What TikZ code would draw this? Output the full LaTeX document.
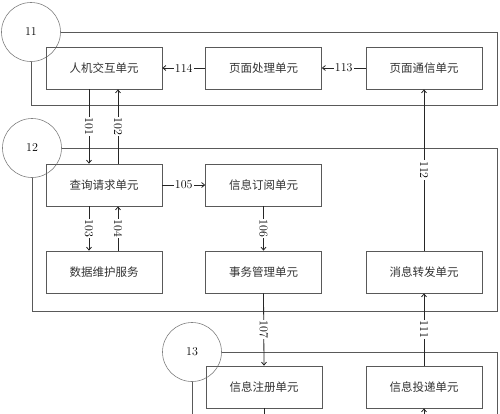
\documentclass[tikz,border=0pt]{standalone}
\usepackage{fontspec}
\newfontfamily\cjk{Noto Sans CJK SC}
\usetikzlibrary{arrows.meta}
\begin{document}
\begin{tikzpicture}[x=1pt,y=-1pt,
 box/.style={draw=black!65, line width=0.7pt, minimum width=116pt, minimum height=42pt, inner sep=0pt, font=\cjk\fontsize{11.5}{12}\selectfont, text=black!80},
 circ/.style={circle, draw=black!50, line width=0.6pt, minimum size=59pt, inner sep=0pt, font=\fontsize{12}{13}\selectfont},
 frame/.style={draw=black!65, line width=0.7pt},
 conn/.style={draw=black!85, line width=0.8pt, -{Straight Barb[length=3pt,width=5pt]}},
 plain/.style={draw=black!85, line width=0.8pt},
 lbl/.style={fill=white, inner sep=1pt, font=\fontsize{12}{13}\selectfont},
 vlbl/.style={lbl, rotate=-90}]
\useasboundingbox (0,0) rectangle (500,413);
\clip (0,0) rectangle (500,413);
\fill[white] (0,0) rectangle (500,413);
% circles
\node[circ] (c11) at (31,32) {11};
\node[circ] (c12) at (32,148) {12};
\node[circ] (c13) at (192,352) {13};
% frame corners
\coordinate (f1bl) at (31,105);
\coordinate (f1br) at (497,105);
\coordinate (f1tr) at (497,32);
\coordinate (f2bl) at (32,311);
\coordinate (f2br) at (497,311);
\coordinate (f2tr) at (497,148);
\coordinate (f3bl) at (192,420);
\coordinate (f3br) at (497,420);
\coordinate (f3tr) at (497,352);
\draw[frame] (c11.south) -- (f1bl) -- (f1br) -- (f1tr) -- (c11.east);
\draw[frame] (c12.south) -- (f2bl) -- (f2br) -- (f2tr) -- (c12.east);
\draw[frame] (c13.south) -- (f3bl);
\draw[frame] (c13.east) -- (f3tr) -- (f3br);
% boxes
\node[box] (a1) at (104,68) {人机交互单元};
\node[box] (a2) at (263.5,68) {页面处理单元};
\node[box] (a3) at (424,68) {页面通信单元};
\node[box] (b1) at (104,185) {查询请求单元};
\node[box] (b2) at (263.5,185) {信息订阅单元};
\node[box] (c1) at (104,272) {数据维护服务};
\node[box] (c2) at (263.5,272) {事务管理单元};
\node[box] (c3) at (424,272) {消息转发单元};
\node[box] (d2) at (264,387) {信息注册单元};
\node[box] (d3) at (424,387) {信息投递单元};
\coordinate (e2) at (264,420);
\coordinate (e3) at (424,420);
% connectors
\draw[conn] (a2.west) -- node[lbl]{114} (a1.east);
\draw[conn] (a3.west) -- node[lbl]{113} (a2.east);
\draw[conn] ([xshift=-15pt]a1.south) -- node[vlbl]{101} ([xshift=-15pt]b1.north);
\draw[conn] ([xshift=14pt]b1.north) -- node[vlbl]{102} ([xshift=14pt]a1.south);
\draw[conn] (b1.east) -- node[lbl]{105} (b2.west);
\draw[conn] ([xshift=-15pt]b1.south) -- node[vlbl]{103} ([xshift=-15pt]c1.north);
\draw[conn] ([xshift=14pt]c1.north) -- node[vlbl]{104} ([xshift=14pt]b1.south);
\draw[conn] (b2.south) -- node[vlbl]{106} (c2.north);
\draw[conn] (c3.north) -- node[vlbl]{112} (a3.south);
\draw[conn] (c2.south) -- node[vlbl]{107} (d2.north);
\draw[conn] (d3.north) -- node[vlbl]{111} (c3.south);
\draw[plain] (d2.south) -- (e2);
\draw[conn] (e3) -- (d3.south);
\end{tikzpicture}
\end{document}
